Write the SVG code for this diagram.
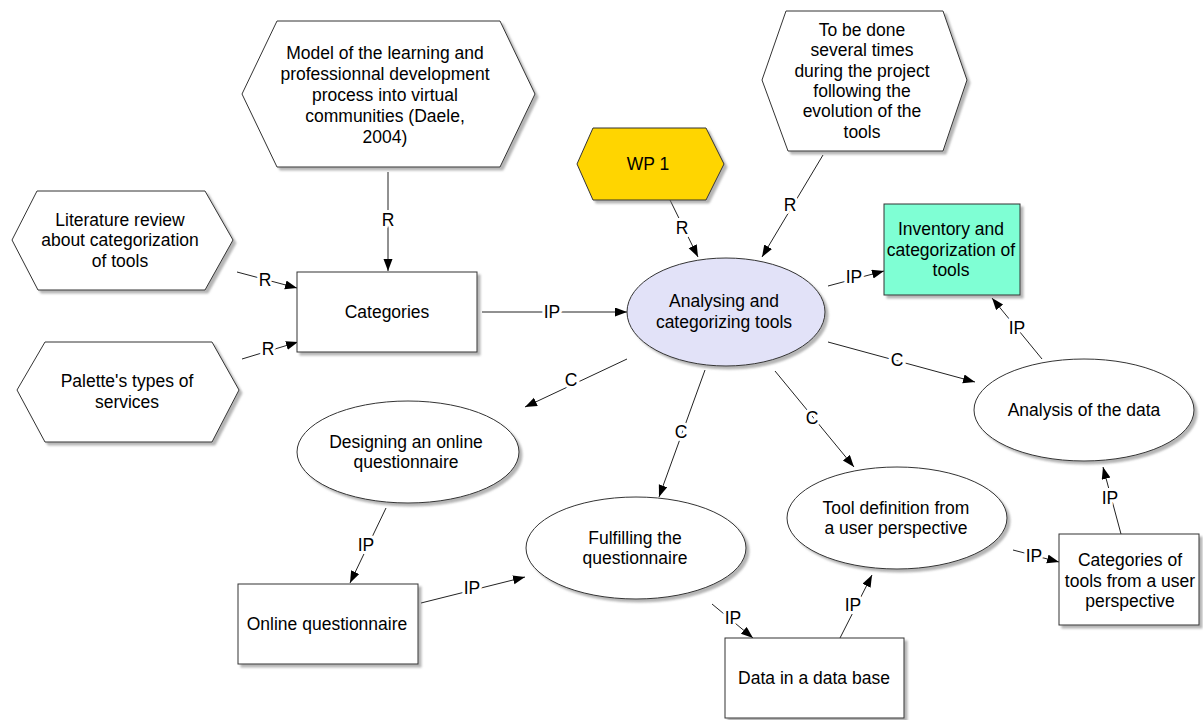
<svg xmlns="http://www.w3.org/2000/svg" width="1203" height="720" viewBox="0 0 1203 720">
<style>
.n{fill:#fff;stroke:#333;stroke-width:1;filter:url(#sh)}
.t{font-family:"Liberation Sans",Arial,sans-serif;font-size:17.5px;fill:#000;text-anchor:middle}
.c{stroke:#222;stroke-width:1;fill:none;marker-end:url(#ah)}
.l{font-family:"Liberation Sans",Arial,sans-serif;font-size:17.5px;fill:#000;text-anchor:middle;stroke:#fff;stroke-width:6;paint-order:stroke;stroke-linejoin:round}
</style>
<defs>
<filter id="sh" x="-10%" y="-10%" width="125%" height="125%">
<feDropShadow dx="3" dy="3" stdDeviation="1.2" flood-color="#777" flood-opacity="0.55"/>
</filter>
<marker id="ah" markerUnits="userSpaceOnUse" markerWidth="13" markerHeight="10" refX="12" refY="4.5" orient="auto">
<path d="M0,0 L12,4.5 L0,9 z" fill="#000"/>
</marker>
</defs>
<rect width="1203" height="720" fill="#fff"/>

<g id="connectors">
<line class="c" x1="388" y1="172" x2="388" y2="271"/>
<text class="l" x="388" y="226">R</text>
<line class="c" x1="237" y1="272" x2="297" y2="288"/>
<text class="l" x="265" y="286">R</text>
<line class="c" x1="242" y1="359" x2="298" y2="342"/>
<text class="l" x="268" y="355">R</text>
<line class="c" x1="670" y1="200" x2="698" y2="257"/>
<text class="l" x="682" y="234">R</text>
<line class="c" x1="823" y1="155" x2="762" y2="257"/>
<text class="l" x="790" y="211">R</text>
<line class="c" x1="482" y1="312" x2="627" y2="312"/>
<text class="l" x="552" y="318">IP</text>
<line class="c" x1="828" y1="286" x2="884" y2="271"/>
<text class="l" x="854" y="283">IP</text>
<line class="c" x1="828" y1="342" x2="975" y2="382"/>
<text class="l" x="897" y="366">C</text>
<line class="c" x1="1042" y1="359" x2="992" y2="298"/>
<text class="l" x="1017" y="334">IP</text>
<line class="c" x1="627" y1="359" x2="525" y2="407"/>
<text class="l" x="571" y="386">C</text>
<line class="c" x1="705" y1="370" x2="659" y2="497"/>
<text class="l" x="681" y="438">C</text>
<line class="c" x1="775" y1="371" x2="854" y2="467"/>
<text class="l" x="812" y="424">C</text>
<line class="c" x1="386" y1="508" x2="350" y2="583"/>
<text class="l" x="366" y="551">IP</text>
<line class="c" x1="421" y1="603" x2="525" y2="577"/>
<text class="l" x="472" y="594">IP</text>
<line class="c" x1="712" y1="604" x2="753" y2="638"/>
<text class="l" x="733" y="624">IP</text>
<line class="c" x1="840" y1="638" x2="872" y2="575"/>
<text class="l" x="853" y="611">IP</text>
<line class="c" x1="1013" y1="550" x2="1059" y2="562"/>
<text class="l" x="1034" y="562">IP</text>
<line class="c" x1="1121" y1="534" x2="1103" y2="467"/>
<text class="l" x="1110" y="504">IP</text>
</g>

<g id="model">
<polygon class="n" points="277,21 500,21 535,94 500,167 277,167 242,94"/>
<text class="t" x="385" y="59">Model of the learning and</text>
<text class="t" x="385" y="80">professionnal development</text>
<text class="t" x="385" y="101">process into virtual</text>
<text class="t" x="385" y="122">communities (Daele,</text>
<text class="t" x="385" y="143">2004)</text>
</g>

<g id="literature">
<polygon class="n" points="37,191 205,191 233,240 205,290 38,290 12,240"/>
<text class="t" x="120" y="226">Literature review</text>
<text class="t" x="120" y="246">about categorization</text>
<text class="t" x="120" y="267">of tools</text>
</g>

<g id="palette">
<polygon class="n" points="45,342 212,342 239,390 212,442 45,442 17,390"/>
<text class="t" x="127" y="387">Palette's types of</text>
<text class="t" x="127" y="408">services</text>
</g>

<g id="categories">
<rect class="n" x="297" y="272" width="180" height="80"/>
<text class="t" x="387" y="318">Categories</text>
</g>

<g id="wp1">
<polygon class="n" style="fill:#FFD500" points="593,128 706,128 724,164 706,200 593,200 577,164"/>
<text class="t" x="648" y="170">WP 1</text>
</g>

<g id="tobedone">
<polygon class="n" points="786,11 943,11 967,80 943,151 788,151 762,80"/>
<text class="t" x="862" y="36">To be done</text>
<text class="t" x="862" y="56">several times</text>
<text class="t" x="862" y="77">during the project</text>
<text class="t" x="862" y="97">following the</text>
<text class="t" x="862" y="117">evolution of the</text>
<text class="t" x="862" y="138">tools</text>
</g>

<g id="analysing">
<ellipse class="n" style="fill:#E2E2F8" cx="726" cy="312" rx="99" ry="54"/>
<text class="t" x="724" y="307">Analysing and</text>
<text class="t" x="724" y="328">categorizing tools</text>
</g>

<g id="inventory">
<rect class="n" style="fill:#7FFFD4" x="884" y="204" width="136" height="91"/>
<text class="t" x="951" y="235">Inventory and</text>
<text class="t" x="951" y="256">categorization of</text>
<text class="t" x="951" y="276">tools</text>
</g>

<g id="analysis">
<ellipse class="n" cx="1084" cy="410" rx="110" ry="51"/>
<text class="t" x="1084" y="416">Analysis of the data</text>
</g>

<g id="designing">
<ellipse class="n" cx="408" cy="452" rx="111" ry="51"/>
<text class="t" x="406" y="448">Designing an online</text>
<text class="t" x="406" y="468">questionnaire</text>
</g>

<g id="fulfilling">
<ellipse class="n" cx="636" cy="548" rx="110" ry="51"/>
<text class="t" x="635" y="544">Fulfilling the</text>
<text class="t" x="635" y="564">questionnaire</text>
</g>

<g id="tooldef">
<ellipse class="n" cx="897" cy="518" rx="110" ry="51"/>
<text class="t" x="896" y="514">Tool definition from</text>
<text class="t" x="896" y="534">a user perspective</text>
</g>

<g id="online">
<rect class="n" x="238" y="584" width="180" height="80"/>
<text class="t" x="327" y="630">Online questionnaire</text>
</g>

<g id="database">
<rect class="n" x="725" y="638" width="179" height="80"/>
<text class="t" x="814" y="684">Data in a data base</text>
</g>

<g id="cattools">
<rect class="n" x="1059" y="534" width="140" height="91"/>
<text class="t" x="1130" y="566">Categories of</text>
<text class="t" x="1130" y="587">tools from a user</text>
<text class="t" x="1130" y="607">perspective</text>
</g>
</svg>
